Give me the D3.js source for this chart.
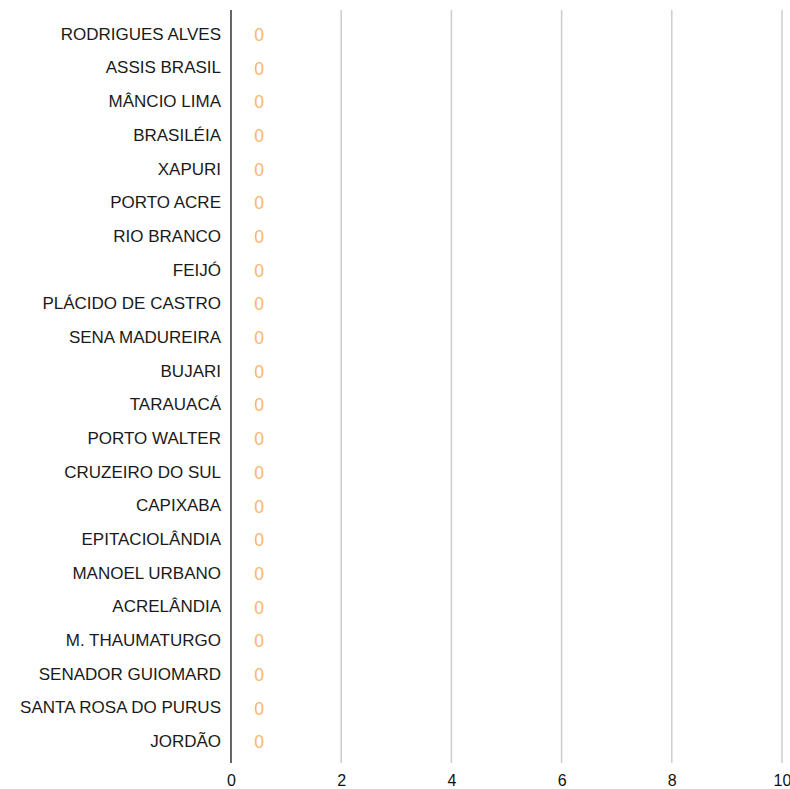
<!DOCTYPE html>
<html>
<head>
<meta charset="utf-8">
<script src="https://cdn.jsdelivr.net/npm/d3@7"></script>
<style>
  body { margin: 0; background: #fff; }
  text { font-family: "Liberation Sans", Arial, sans-serif; }
  .x-axis text { font-size: 16px; fill: #111; }
</style>
</head>
<body>
<script>
const cities = ["RODRIGUES ALVES", "ASSIS BRASIL", "MÂNCIO LIMA", "BRASILÉIA", "XAPURI",
  "PORTO ACRE", "RIO BRANCO", "FEIJÓ", "PLÁCIDO DE CASTRO", "SENA MADUREIRA", "BUJARI",
  "TARAUACÁ", "PORTO WALTER", "CRUZEIRO DO SUL", "CAPIXABA", "EPITACIOLÂNDIA",
  "MANOEL URBANO", "ACRELÂNDIA", "M. THAUMATURGO", "SENADOR GUIOMARD",
  "SANTA ROSA DO PURUS", "JORDÃO"];
const values = [0, 0, 0, 0, 0, 0, 0, 0, 0, 0, 0, 0, 0, 0, 0, 0, 0, 0, 0, 0, 0, 0];
const x_ticks = [0, 2, 4, 6, 8, 10];

const width = 790, height = 789;
const left = 231, right = 782;
const grid_top = 10, grid_bottom = 763;

let svg = d3.select("body").append("svg")
    .attr("width", width)
    .attr("height", height);

let x = d3.scaleLinear().domain([0, 10]).range([left, right]);
let y = d3.scaleBand().domain(cities).range([17, 758]);

// gridlines
svg.append("g")
  .selectAll("line")
  .data(x_ticks.filter(d => d > 0))
  .join("line")
    .attr("x1", d => x(d)).attr("x2", d => x(d))
    .attr("y1", grid_top).attr("y2", grid_bottom)
    .attr("stroke", "#cccccc")
    .attr("stroke-width", 1.5);

// bars (all zero)
svg.append("g")
  .selectAll("rect")
  .data(values)
  .join("rect")
    .attr("x", x(0))
    .attr("y", (d, i) => y(cities[i]) + 4)
    .attr("width", d => x(d) - x(0))
    .attr("height", y.bandwidth() - 8)
    .attr("fill", "#f5b45f");

// zero line
svg.append("line")
  .attr("x1", x(0)).attr("x2", x(0))
  .attr("y1", grid_top).attr("y2", grid_bottom)
  .attr("stroke", "#333")
  .attr("stroke-width", 1.5);

// category labels
svg.append("g")
  .selectAll("text")
  .data(cities)
  .join("text")
    .attr("x", left - 10)
    .attr("y", d => y(d) + y.bandwidth() / 2)
    .attr("dy", "0.35em")
    .attr("text-anchor", "end")
    .style("font-size", "17px")
    .attr("fill", "#1a1a1a")
    .text(d => d);

// value labels
svg.append("g")
  .selectAll("text")
  .data(values)
  .join("text")
    .attr("x", (d, i) => x(d) + 28)
    .attr("y", (d, i) => y(cities[i]) + y.bandwidth() / 2 + 1)
    .attr("dy", "0.35em")
    .attr("text-anchor", "middle")
    .style("font-size", "17.5px")
    .attr("fill", "#f5b66e")
    .text(d => d);

// x axis tick labels
let x_axis = d3.axisBottom(x).tickValues(x_ticks).tickSize(0).tickPadding(0);
let ax = svg.append("g")
  .attr("class", "x-axis")
  .attr("transform", "translate(0," + 775 + ")")
  .call(x_axis)
  .attr("font-size", 16)
  .attr("font-family", "'Liberation Sans', Arial, sans-serif");
ax.select(".domain").remove();
</script>
</body>
</html>
